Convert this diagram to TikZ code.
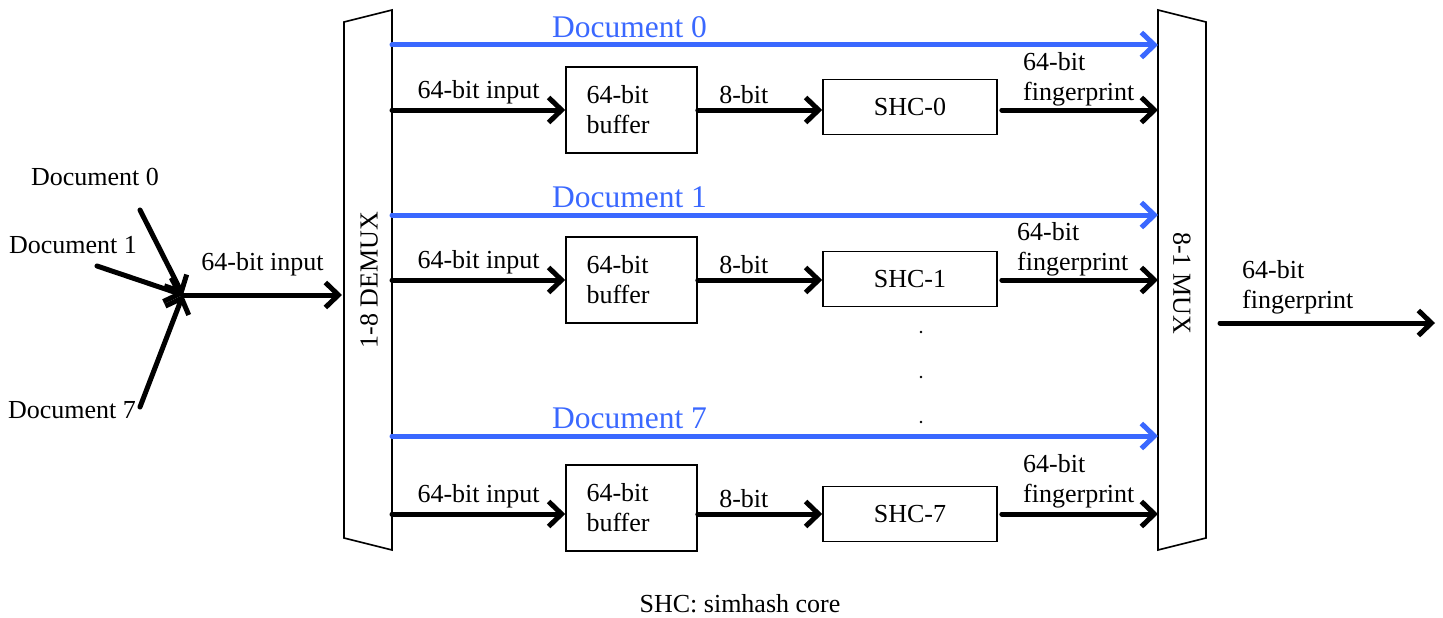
\documentclass[tikz,border=0pt]{standalone}
\usepackage{fontspec}
\setmainfont{Liberation Serif}
\usetikzlibrary{arrows.meta}
\definecolor{docblue}{RGB}{58,104,255}

\begin{document}
\begin{tikzpicture}[x=1pt,y=-1pt,
  font=\fontsize{26}{30}\selectfont,
  wire/.style={line width=5pt,line cap=round,-{Straight Barb[length=13pt,width=25pt]}},
  doc wire/.style={wire,draw=docblue},
  buf node/.style={draw,line width=1.6pt,minimum width=131pt,minimum height=86pt,text width=90pt,align=left},
  shc node/.style={draw,line width=1.6pt,minimum width=174pt,minimum height=55pt},
  fp node/.style={inner sep=0pt,align=left,anchor=south west},
  doc label/.style={text=docblue,font=\fontsize{31.5}{36}\selectfont}]

  \useasboundingbox (0,0) rectangle (1443,618);

  % demux / mux
  \draw[line width=1.6pt] (344,22) -- (392,10) -- (392,550) -- (344,538) -- cycle;
  \draw[line width=1.6pt] (1158,10) -- (1206,22) -- (1206,538) -- (1158,550) -- cycle;
  \node[rotate=90] (demux) at (369,280) {1-8 DEMUX};
  \node[rotate=-90] (mux) at (1182,283) {8-1 MUX};

  % documents in
  \node (d0) at (95,177) {Document 0};
  \node (d1) at (73,245) {Document 1};
  \node (d7) at (72,410) {Document 7};
  \coordinate (s0) at (140,210);
  \coordinate (s1) at (97,266);
  \coordinate (s7) at (140,407);
  \coordinate (j) at (183,295);
  \coordinate (dmin) at (342,295);
  \draw[wire] (s0) -- (j);
  \draw[wire] (s1) -- (j);
  \draw[wire] (s7) -- (j);
  \draw[wire] (j) -- node[above=13pt] {64-bit input} (dmin);

  % rows
  \coordinate (o0) at (392,110);
  \coordinate (o1) at (392,280);
  \coordinate (o7) at (392,514);
  \coordinate (m0) at (1158,110);
  \coordinate (m1) at (1158,280);
  \coordinate (m7) at (1158,514);
  \coordinate (b0) at (392,45);
  \coordinate (b1) at (392,215);
  \coordinate (b7) at (392,436);
  \coordinate (c0) at (1158,45);
  \coordinate (c1) at (1158,215);
  \coordinate (c7) at (1158,436);

  \node[buf node] (buf0) at (631.5,110) {64-bit\\buffer};
  \node[buf node] (buf1) at (631.5,280) {64-bit\\buffer};
  \node[buf node] (buf7) at (631.5,508) {64-bit\\buffer};
  \node[shc node] (shc0) at (910,107) {SHC-0};
  \node[shc node] (shc1) at (910,279) {SHC-1};
  \node[shc node] (shc7) at (910,514) {SHC-7};

  \draw[doc wire] (b0) -- node[pos=.31,above=1pt,doc label] {Document 0} (c0);
  \draw[doc wire] (b1) -- node[pos=.31,above=1pt,doc label] {Document 1} (c1);
  \draw[doc wire] (b7) -- node[pos=.31,above=1pt,doc label] {Document 7} (c7);

  \draw[wire] (o0) -- node[above] {64-bit input} (buf0.west |- o0);
  \draw[wire] (o1) -- node[above] {64-bit input} (buf1.west |- o1);
  \draw[wire] (o7) -- node[above] {64-bit input} (buf7.west |- o7);

  \draw[wire] (buf0.east |- o0) -- node[pos=.37,above] {8-bit} (shc0.west |- o0);
  \draw[wire] (buf1.east |- o1) -- node[pos=.37,above] {8-bit} (shc1.west |- o1);
  \draw[wire] (buf7.east |- o7) -- node[pos=.37,above] {8-bit} (shc7.west |- o7);

  \draw[wire] ([xshift=4pt]shc0.east |- m0) -- (m0);
  \draw[wire] ([xshift=4pt]shc1.east |- m1) -- (m1);
  \draw[wire] ([xshift=4pt]shc7.east |- m7) -- (m7);
  \node[fp node] (fp0) at (1023,106) {64-bit\\fingerprint};
  \node[fp node] (fp1) at (1017,276) {64-bit\\fingerprint};
  \node[fp node] (fp7) at (1023,508) {64-bit\\fingerprint};

  % dots
  \fill (921,332) circle (1.4pt);
  \fill (921,377) circle (1.4pt);
  \fill (921,422) circle (1.4pt);

  % output
  \coordinate (outs) at (1220,323);
  \coordinate (oute) at (1435,323);
  \draw[wire] (outs) -- (oute);
  \node[fp node] (fpout) at (1242,314) {64-bit\\fingerprint};

  \node (key) at (740,604) {SHC: simhash core};
\end{tikzpicture}
\end{document}
